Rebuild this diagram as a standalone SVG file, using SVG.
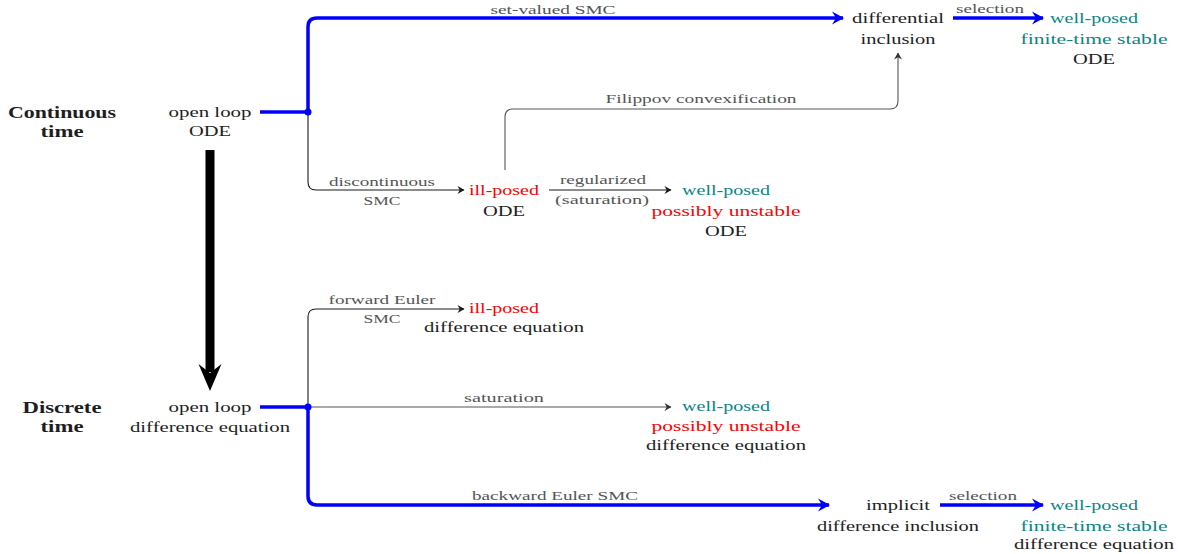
<svg xmlns="http://www.w3.org/2000/svg" width="1178" height="554" viewBox="0 0 1178 554">
<style>
text{font-family:"Liberation Serif","Times New Roman",serif;text-anchor:middle}
.t{font-size:15.5px;fill:#1e1e1e}
.b{font-size:16px;font-weight:bold;fill:#1e1e1e}
.l{font-size:12px;fill:#555}
.teal{fill:#0a8585}
.red{fill:#ff0000}
.blue{fill:none;stroke:#0000ff;stroke-width:3.5}
.thin{fill:none;stroke:#1a1a1a;stroke-width:1.1}
.gray{fill:none;stroke:#555;stroke-width:1.1}
</style>
<defs>
<marker id="ab" markerUnits="userSpaceOnUse" markerWidth="16" markerHeight="16" viewBox="-14 -8 16 16" refX="0" refY="0" orient="auto" overflow="visible">
<path d="M1,0 L-11,-6.5 L-7,0 L-11,6.5 Z" fill="#0000ff"/>
</marker>
<marker id="at" markerUnits="userSpaceOnUse" markerWidth="10" markerHeight="10" viewBox="-8 -5 10 10" refX="0" refY="0" orient="auto" overflow="visible">
<path d="M0.5,0 L-6.5,-4 L-4.3,0 L-6.5,4 Z" fill="#1a1a1a"/>
</marker>
<marker id="ag" markerUnits="userSpaceOnUse" markerWidth="10" markerHeight="10" viewBox="-8 -5 10 10" refX="0" refY="0" orient="auto" overflow="visible">
<path d="M0.5,0 L-6.5,-4 L-4.3,0 L-6.5,4 Z" fill="#333"/>
</marker>
</defs>
<rect width="1178" height="554" fill="#fff"/>

<g id="connectors">
<path class="blue" d="M260,112 H308"/>
<path class="blue" d="M308,112 V27 Q308,18 317,18 H843" marker-end="url(#ab)"/>
<path class="blue" d="M953,18 H1043" marker-end="url(#ab)"/>
<path class="thin" d="M308,112 V182 Q308,190 316,190 H464" marker-end="url(#at)"/>
<path class="thin" d="M549,190 H671" marker-end="url(#at)"/>
<path class="gray" d="M505,170 V117 Q505,109 513,109 H890 Q898,109 898,101 V53" marker-end="url(#ag)"/>
<rect x="205.5" y="150" width="9" height="222" fill="#000"/>
<path d="M198.5,364 L210,391 L221.5,364 L210,373 Z" fill="#000"/>
<path class="thin" d="M308,407 V317 Q308,309 316,309 H464" marker-end="url(#at)"/>
<path class="gray" d="M308,407 H671" marker-end="url(#ag)"/>
<path class="blue" d="M260,407 H308"/>
<path class="blue" d="M308,407 V496 Q308,505 317,505 H829" marker-end="url(#ab)"/>
<path class="blue" d="M940,505 H1043" marker-end="url(#ab)"/>
<circle cx="308" cy="112" r="3.5" fill="#0000ff"/>
<circle cx="308" cy="407" r="3.5" fill="#0000ff"/>
<text class="l" x="553" y="14" textLength="125" lengthAdjust="spacingAndGlyphs">set-valued SMC</text>
<text class="l" x="990" y="13" textLength="68" lengthAdjust="spacingAndGlyphs">selection</text>
<text class="l" x="701" y="103" textLength="191" lengthAdjust="spacingAndGlyphs">Filippov convexification</text>
<text class="l" x="382" y="186" textLength="106" lengthAdjust="spacingAndGlyphs">discontinuous</text>
<text class="l" x="382" y="205" textLength="37" lengthAdjust="spacingAndGlyphs">SMC</text>
<text class="l" x="603" y="184" textLength="86" lengthAdjust="spacingAndGlyphs">regularized</text>
<text class="l" x="602" y="204" textLength="94" lengthAdjust="spacingAndGlyphs">(saturation)</text>
<text class="l" x="382" y="304" textLength="107" lengthAdjust="spacingAndGlyphs">forward Euler</text>
<text class="l" x="382" y="323" textLength="37" lengthAdjust="spacingAndGlyphs">SMC</text>
<text class="l" x="504" y="402" textLength="80" lengthAdjust="spacingAndGlyphs">saturation</text>
<text class="l" x="555" y="500" textLength="166" lengthAdjust="spacingAndGlyphs">backward Euler SMC</text>
<text class="l" x="983" y="500" textLength="68" lengthAdjust="spacingAndGlyphs">selection</text>
</g>

<g id="label-continuous"><text class="b" x="62" y="118" textLength="108" lengthAdjust="spacingAndGlyphs">Continuous</text><text class="b" x="62" y="137" textLength="43" lengthAdjust="spacingAndGlyphs">time</text></g>
<g id="label-discrete"><text class="b" x="62" y="413" textLength="79" lengthAdjust="spacingAndGlyphs">Discrete</text><text class="b" x="62" y="432" textLength="43" lengthAdjust="spacingAndGlyphs">time</text></g>

<g id="ct-open"><text class="t" x="210" y="117" textLength="83" lengthAdjust="spacingAndGlyphs">open loop</text><text class="t" x="210" y="136" textLength="42" lengthAdjust="spacingAndGlyphs">ODE</text></g>
<g id="ct-diffincl"><text class="t" x="898" y="23" textLength="92" lengthAdjust="spacingAndGlyphs">differential</text><text class="t" x="898" y="44" textLength="75" lengthAdjust="spacingAndGlyphs">inclusion</text></g>
<g id="ct-selected"><text class="t teal" x="1094" y="23" textLength="88" lengthAdjust="spacingAndGlyphs">well-posed</text><text class="t teal" x="1094" y="44" textLength="147" lengthAdjust="spacingAndGlyphs">finite-time stable</text><text class="t" x="1094" y="64" textLength="42" lengthAdjust="spacingAndGlyphs">ODE</text></g>
<g id="ct-illposed"><text class="t red" x="504" y="195" textLength="70" lengthAdjust="spacingAndGlyphs">ill-posed</text><text class="t" x="504" y="216" textLength="42" lengthAdjust="spacingAndGlyphs">ODE</text></g>
<g id="ct-regularized"><text class="t teal" x="726" y="195" textLength="88" lengthAdjust="spacingAndGlyphs">well-posed</text><text class="t red" x="726" y="215.5" textLength="149" lengthAdjust="spacingAndGlyphs">possibly unstable</text><text class="t" x="726" y="236" textLength="42" lengthAdjust="spacingAndGlyphs">ODE</text></g>

<g id="dt-open"><text class="t" x="210" y="412" textLength="83" lengthAdjust="spacingAndGlyphs">open loop</text><text class="t" x="210" y="431.5" textLength="160" lengthAdjust="spacingAndGlyphs">difference equation</text></g>
<g id="dt-illposed"><text class="t red" x="504" y="313" textLength="70" lengthAdjust="spacingAndGlyphs">ill-posed</text><text class="t" x="504" y="332" textLength="160" lengthAdjust="spacingAndGlyphs">difference equation</text></g>
<g id="dt-saturated"><text class="t teal" x="726" y="411" textLength="88" lengthAdjust="spacingAndGlyphs">well-posed</text><text class="t red" x="726" y="431" textLength="149" lengthAdjust="spacingAndGlyphs">possibly unstable</text><text class="t" x="726" y="450" textLength="160" lengthAdjust="spacingAndGlyphs">difference equation</text></g>
<g id="dt-implicit"><text class="t" x="898" y="510" textLength="64" lengthAdjust="spacingAndGlyphs">implicit</text><text class="t" x="898" y="531" textLength="162" lengthAdjust="spacingAndGlyphs">difference inclusion</text></g>
<g id="dt-selected"><text class="t teal" x="1094" y="510" textLength="88" lengthAdjust="spacingAndGlyphs">well-posed</text><text class="t teal" x="1094" y="531" textLength="147" lengthAdjust="spacingAndGlyphs">finite-time stable</text><text class="t" x="1094" y="549" textLength="160" lengthAdjust="spacingAndGlyphs">difference equation</text></g>
</svg>
